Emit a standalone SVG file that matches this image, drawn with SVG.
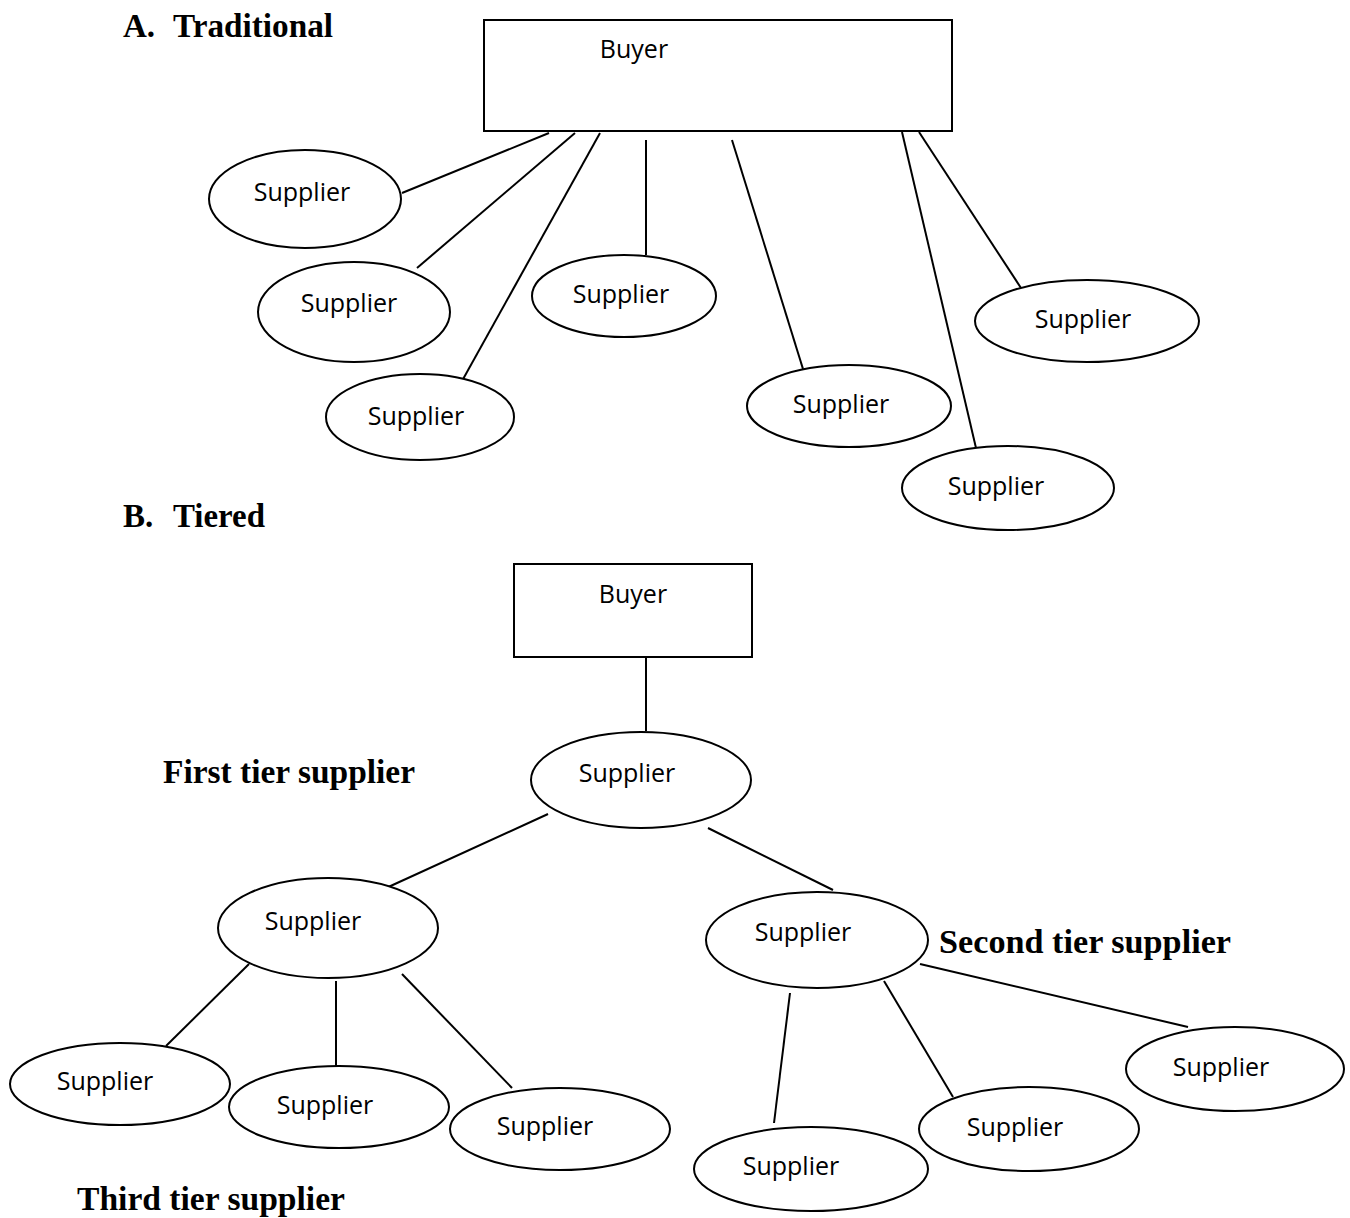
<svg xmlns="http://www.w3.org/2000/svg" width="1350" height="1218" viewBox="0 0 1350 1218">
<style>
.n{fill:#fff;stroke:#000;stroke-width:2}
.c line{stroke:#000;stroke-width:2}
.t{font-family:"Open Sans","Liberation Sans",sans-serif;font-size:25px;fill:#000;text-anchor:middle}
.h{font-family:"Liberation Serif","Times New Roman",serif;font-size:33px;font-weight:bold;fill:#000}
</style>
<rect width="1350" height="1218" fill="#fff"/>
<text class="h" x="123" y="37">A.<tspan x="173" textLength="160" lengthAdjust="spacingAndGlyphs">Traditional</tspan></text>
<text class="h" x="123" y="527">B.<tspan x="173" textLength="92" lengthAdjust="spacingAndGlyphs">Tiered</tspan></text>
<text class="h" x="163" y="783" textLength="252" lengthAdjust="spacingAndGlyphs">First tier supplier</text>
<text class="h" x="939" y="953" textLength="292" lengthAdjust="spacingAndGlyphs">Second tier supplier</text>
<text class="h" x="77" y="1210" textLength="268" lengthAdjust="spacingAndGlyphs">Third tier supplier</text>
<g class="c" id="connectors">
<line x1="402" y1="193" x2="549" y2="133"/>
<line x1="417" y1="268" x2="575" y2="133"/>
<line x1="462" y1="381" x2="600" y2="133"/>
<line x1="646" y1="140" x2="646" y2="255"/>
<line x1="732" y1="140" x2="803" y2="369"/>
<line x1="902" y1="132" x2="976" y2="448"/>
<line x1="919" y1="132" x2="1021" y2="288"/>
<line x1="646" y1="657" x2="646" y2="731"/>
<line x1="548" y1="814" x2="384" y2="889"/>
<line x1="708" y1="828" x2="833" y2="890"/>
<line x1="249" y1="964" x2="166" y2="1046"/>
<line x1="336" y1="981" x2="336" y2="1066"/>
<line x1="402" y1="974" x2="512" y2="1088"/>
<line x1="790" y1="993" x2="774" y2="1123"/>
<line x1="884" y1="981" x2="953" y2="1097"/>
<line x1="920" y1="964" x2="1188" y2="1027"/>
</g>
<g id="buyerA"><rect class="n" x="484" y="20" width="468" height="111"/><text class="t" x="634" y="58">Buyer</text></g>
<g id="sA1"><ellipse class="n" cx="305" cy="199" rx="96" ry="49"/><text class="t" x="302" y="201">Supplier</text></g>
<g id="sA2"><ellipse class="n" cx="354" cy="312" rx="96" ry="50"/><text class="t" x="349" y="312">Supplier</text></g>
<g id="sA3"><ellipse class="n" cx="420" cy="417" rx="94" ry="43"/><text class="t" x="416" y="425">Supplier</text></g>
<g id="sA4"><ellipse class="n" cx="624" cy="296" rx="92" ry="41"/><text class="t" x="621" y="303">Supplier</text></g>
<g id="sA5"><ellipse class="n" cx="849" cy="406" rx="102" ry="41"/><text class="t" x="841" y="413">Supplier</text></g>
<g id="sA6"><ellipse class="n" cx="1087" cy="321" rx="112" ry="41"/><text class="t" x="1083" y="328">Supplier</text></g>
<g id="sA7"><ellipse class="n" cx="1008" cy="488" rx="106" ry="42"/><text class="t" x="996" y="495">Supplier</text></g>
<g id="buyerB"><rect class="n" x="514" y="564" width="238" height="93"/><text class="t" x="633" y="603">Buyer</text></g>
<g id="tier1"><ellipse class="n" cx="641" cy="780" rx="110" ry="48"/><text class="t" x="627" y="782">Supplier</text></g>
<g id="tier2L"><ellipse class="n" cx="328" cy="928" rx="110" ry="50"/><text class="t" x="313" y="930">Supplier</text></g>
<g id="tier2R"><ellipse class="n" cx="817" cy="940" rx="111" ry="48"/><text class="t" x="803" y="941">Supplier</text></g>
<g id="tier3a"><ellipse class="n" cx="120" cy="1084" rx="110" ry="41"/><text class="t" x="105" y="1090">Supplier</text></g>
<g id="tier3b"><ellipse class="n" cx="339" cy="1107" rx="110" ry="41"/><text class="t" x="325" y="1114">Supplier</text></g>
<g id="tier3c"><ellipse class="n" cx="560" cy="1129" rx="110" ry="41"/><text class="t" x="545" y="1135">Supplier</text></g>
<g id="tier3d"><ellipse class="n" cx="811" cy="1169" rx="117" ry="42"/><text class="t" x="791" y="1175">Supplier</text></g>
<g id="tier3e"><ellipse class="n" cx="1029" cy="1129" rx="110" ry="42"/><text class="t" x="1015" y="1136">Supplier</text></g>
<g id="tier3f"><ellipse class="n" cx="1235" cy="1069" rx="109" ry="42"/><text class="t" x="1221" y="1076">Supplier</text></g>
</svg>
